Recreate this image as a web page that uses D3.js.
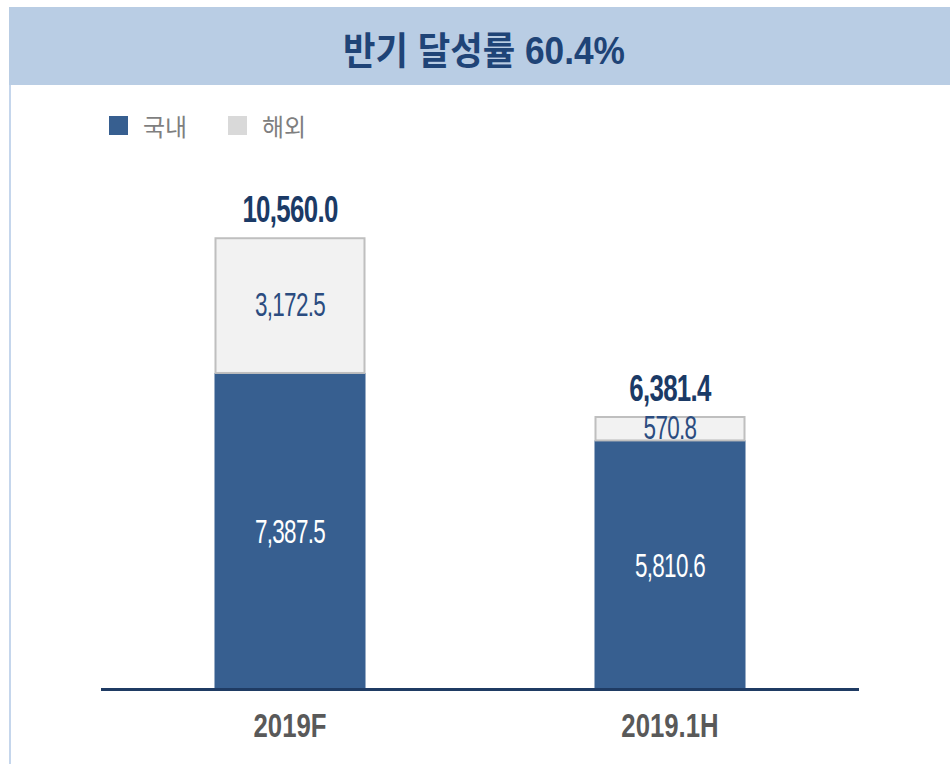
<!DOCTYPE html>
<html>
<head>
<meta charset="utf-8">
<script src="https://cdn.jsdelivr.net/npm/d3@7"></script>
<style>
  html, body { margin: 0; padding: 0; background: #fff; }
  svg { display: block; }
</style>
</head>
<body>
<script>
const categories = ['2019F', '2019.1H'];
const domestic = [7387.5, 5810.6];
const overseas = [3172.5, 570.8];
const totals = [10560.0, 6381.4];
const seriesNames = ['국내', '해외'];
const title = '반기 달성률 60.4%';

const width = 950;
const height = 764;
const latin = '"Liberation Sans", Arial, sans-serif';
const korean = '"Noto Sans CJK KR", sans-serif';
const colors = { domestic: '#375f90', overseas: '#f2f2f2', stroke: '#bfbfbf' };

const svg = d3.select('body')
  .append('svg')
  .attr('width', width)
  .attr('height', height);

// header band + left rule
svg.append('rect')
  .attr('x', 9).attr('y', 7)
  .attr('width', width - 9).attr('height', 78)
  .attr('fill', '#b9cde4');

svg.append('line')
  .attr('x1', 10).attr('x2', 10)
  .attr('y1', 85).attr('y2', height)
  .style('stroke', '#c5d6ec')
  .style('stroke-width', 2);

// latin first so the digits use it, hangul falls through to Noto CJK
svg.append('text')
  .attr('x', 343).attr('y', 64)
  .attr('textLength', 282)
  .attr('lengthAdjust', 'spacingAndGlyphs')
  .style('font-family', '"Liberation Sans", "Noto Sans CJK KR", sans-serif')
  .style('font-weight', 'bold')
  .style('font-size', '38px')
  .style('fill', '#1f4477')
  .text(title);

// legend
const legendItems = [
  { name: seriesNames[0], fill: colors.domestic, x: 109 },
  { name: seriesNames[1], fill: '#d9d9d9', x: 228 }
];
const legend = svg.append('g')
  .selectAll('g')
  .data(legendItems)
  .enter()
  .append('g');

legend.append('rect')
  .attr('x', (d) => d.x).attr('y', 116)
  .attr('width', 19).attr('height', 19)
  .attr('fill', (d) => d.fill);

legend.append('text')
  .attr('x', (d) => d.x + 34).attr('y', 136)
  .style('font-family', korean)
  .style('font-size', '24px')
  .style('fill', '#7f7f7f')
  .text((d) => d.name);

const x = d3.scaleBand()
  .domain(categories)
  .range([100, 860])
  .paddingInner(0.6026)
  .paddingOuter(0.3013);

const y = d3.scaleLinear()
  .domain([0, 12000])
  .range([689, 689 - 12000 * 0.04278]);

const data = categories.map((c, i) => ({
  cat: c,
  dom: domestic[i],
  ovs: overseas[i],
  total: totals[i]
}));

const bars = svg.selectAll('.bar')
  .data(data)
  .enter()
  .append('g')
  .classed('bar', true);

bars.append('rect')
  .attr('x', (d) => x(d.cat))
  .attr('y', (d) => y(d.dom))
  .attr('width', x.bandwidth())
  .attr('height', (d) => y(0) - y(d.dom))
  .attr('fill', colors.domestic);

bars.append('rect')
  .attr('x', (d) => x(d.cat) + 1)
  .attr('y', (d) => y(d.dom + d.ovs) + 1)
  .attr('width', x.bandwidth() - 2)
  .attr('height', (d) => y(d.dom) - y(d.dom + d.ovs) - 1)
  .attr('fill', colors.overseas)
  .attr('stroke', colors.stroke)
  .attr('stroke-width', 2);

const fmt = d3.format(',.1f');
const cx = (d) => x(d.cat) + x.bandwidth() / 2;

// condensed label: squeeze horizontally around its anchor
function narrowLabel(sel, xf, yf, sx, size, weight, fill, textf) {
  sel.append('text')
    .attr('transform', (d) => `translate(${xf(d)},${yf(d)}) scale(${sx},1)`)
    .attr('text-anchor', 'middle')
    .style('font-family', latin)
    .style('font-weight', weight)
    .style('font-size', size)
    .style('letter-spacing', '-1px')
    .style('fill', fill)
    .text(textf);
}

narrowLabel(bars, cx, (d) => (y(0) + y(d.dom)) / 2 + 12,
  0.66, '34px', 'normal', '#ffffff', (d) => fmt(d.dom));

narrowLabel(bars, cx, (d) => (y(d.dom) + y(d.dom + d.ovs)) / 2 + 11,
  0.66, '34px', 'normal', '#2b4c80', (d) => fmt(d.ovs));

narrowLabel(bars, cx, (d) => y(d.total) - 15,
  0.7, '37px', 'bold', '#1b3a66', (d) => fmt(d.total));

// baseline + category axis
svg.append('line')
  .attr('x1', 101).attr('x2', 859)
  .attr('y1', y(0) + 0.5).attr('y2', y(0) + 0.5)
  .style('stroke', '#1f3b63')
  .style('stroke-width', 3);

const xAxis = svg.append('g')
  .attr('transform', `translate(0,${y(0)})`)
  .call(d3.axisBottom(x).tickSize(0).tickPadding(0));

xAxis.select('.domain').remove();
xAxis.selectAll('.tick text')
  .attr('y', 0)
  .attr('dy', 0)
  .attr('transform', 'translate(0,48) scale(0.78,1)')
  .style('font-family', latin)
  .style('font-weight', 'bold')
  .style('font-size', '33px')
  .style('fill', '#595959');
</script>
</body>
</html>
